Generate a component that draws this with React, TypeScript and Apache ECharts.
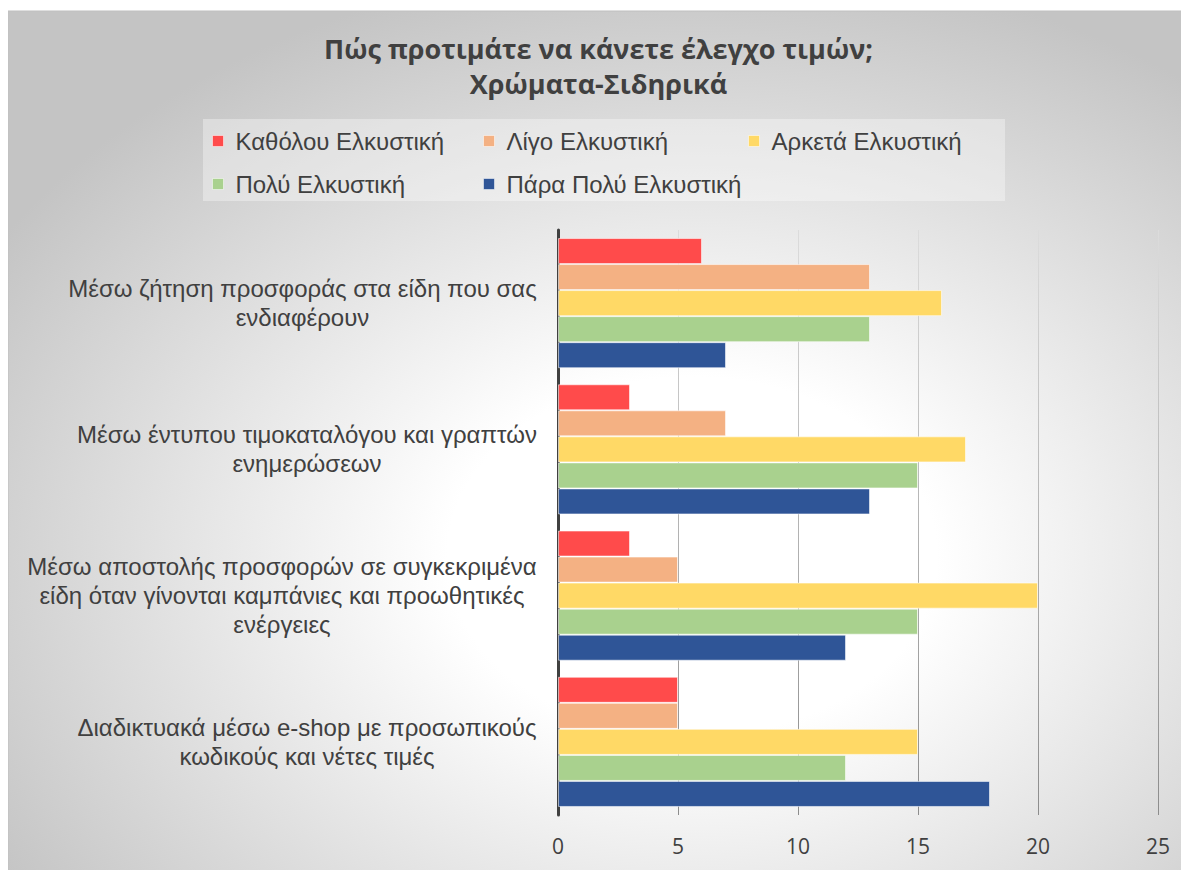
import React, { useEffect, useRef } from "react";
import * as echarts from "echarts";

const TITLE = "Πώς προτιμάτε να κάνετε έλεγχο τιμών;\nΧρώματα-Σιδηρικά";
const CATEGORIES = [
  "Μέσω ζήτηση προσφοράς στα είδη που σας\nενδιαφέρουν",
  "Μέσω έντυπου τιμοκαταλόγου και γραπτών\nενημερώσεων",
  "Μέσω αποστολής προσφορών σε συγκεκριμένα\nείδη όταν γίνονται καμπάνιες και προωθητικές\nενέργειες",
  "Διαδικτυακά μέσω e-shop με προσωπικούς\nκωδικούς και νέτες τιμές",
];
const SERIES_NAMES = [
  "Καθόλου Ελκυστική",
  "Λίγο Ελκυστική",
  "Αρκετά Ελκυστική",
  "Πολύ Ελκυστική",
  "Πάρα Πολύ Ελκυστική",
];
const KATHOLOU = [6, 3, 3, 5];
const LIGO = [13, 7, 5, 5];
const ARKETA = [16, 17, 20, 15];
const POLY = [13, 15, 15, 12];
const PARA_POLY = [7, 13, 12, 18];
const X_TICKS = [0, 5, 10, 15, 20, 25];

const COLORS = ["#FF4B4B", "#F4B183", "#FFD966", "#A9D18E", "#2F5597"];
const FONT = "'Liberation Sans', Arial, sans-serif";
const FONT2 = "'Open Sans', 'Liberation Sans', sans-serif";
const TEXT = "#404040";

export default function App() {
  const ref = useRef<HTMLDivElement>(null);
  useEffect(() => {
    if (!ref.current) return;
    const chart = echarts.init(ref.current, undefined, { renderer: "svg" });
    const values = [KATHOLOU, LIGO, ARKETA, POLY, PARA_POLY];

    const ctx = document.createElement("canvas").getContext("2d")!;
    ctx.font = `24px 'Liberation Sans', Arial, sans-serif`;
    const rich: any = {};
    CATEGORIES.forEach((c, i) => {
      const w = Math.max(...c.split("\n").map((l) => ctx.measureText(l).width));
      rich["c" + i] = {
        width: Math.ceil(w) + 2,
        align: "center",
        fontSize: 24,
        lineHeight: 29,
        color: TEXT,
        fontFamily: FONT,
      };
    });

    const legendPos = [
      [204, 121],
      [475, 121],
      [740, 121],
      [204, 164],
      [475, 164],
    ];

    chart.setOption({
      animation: false,
      textStyle: { fontFamily: FONT },
      title: {
        text: TITLE,
        left: "center",
        top: 18,
        textStyle: {
          fontSize: 27,
          fontWeight: "bold",
          color: TEXT,
          lineHeight: 35,
          fontFamily: FONT2,
        },
      },
      graphic: [
        {
          type: "rect",
          z: -100,
          silent: true,
          shape: { x: 0, y: 3, width: 1200, height: 880 },
          style: {
            fill: new echarts.graphic.RadialGradient(0.57, 0.62, 0.68, [
              { offset: 0, color: "#ffffff" },
              { offset: 0.3, color: "#ffffff" },
              { offset: 1, color: "#c4c4c4" },
            ]),
            stroke: "#bfbfbf",
            lineWidth: 1,
          },
        },
        {
          type: "rect",
          z: -99,
          silent: true,
          shape: { x: 195, y: 111, width: 802, height: 82 },
          style: { fill: "rgba(255,255,255,0.35)" },
        },
      ],
      legend: SERIES_NAMES.map((n, i) => ({
        data: [n],
        left: legendPos[i][0],
        top: legendPos[i][1],
        padding: 0,
        icon: "rect",
        itemWidth: 11,
        itemHeight: 11,
        selectedMode: false,
        itemStyle: { borderColor: "rgba(255,255,255,0.5)", borderWidth: 1 },
        textStyle: {
          fontSize: 24,
          lineHeight: 24,
          color: TEXT,
          fontFamily: FONT,
          padding: [0, 0, 0, 7],
        },
      })),
      grid: { left: 550, top: 222, width: 600, height: 585, containLabel: false },
      xAxis: {
        type: "value",
        min: 0,
        max: 25,
        interval: 5,
        axisLine: { show: false },
        axisTick: { show: false },
        axisLabel: {
          fontSize: 21,
          color: TEXT,
          margin: 20,
          fontFamily: FONT2,
          formatter: (v: number) => (X_TICKS.includes(v) ? String(v) : ""),
        },
        splitLine: {
          lineStyle: {
            width: 1,
            color: new echarts.graphic.LinearGradient(
              0,
              222,
              0,
              807,
              [
                { offset: 0, color: "#dcdcdc" },
                { offset: 1, color: "#8c8c8c" },
              ],
              true
            ),
          },
        },
      },
      yAxis: {
        type: "category",
        inverse: true,
        data: CATEGORIES,
        axisLine: { show: true, lineStyle: { color: "#404040", width: 3 } },
        axisTick: { show: false },
        axisLabel: {
          margin: 20,
          align: "right",
          formatter: (v: string) => {
            const i = CATEGORIES.indexOf(v);
            return v
              .split("\n")
              .map((l) => `{c${i}|${l}}`)
              .join("\n");
          },
          rich,
        },
      },
      series: SERIES_NAMES.map((n, i) => ({
        name: n,
        type: "bar",
        data: values[i],
        barGap: "0%",
        barCategoryGap: "11%",
        itemStyle: {
          color: COLORS[i],
          borderColor: "rgba(255,255,255,0.55)",
          borderWidth: 1,
        },
      })),
    });
    return () => chart.dispose();
  }, []);
  return <div ref={ref} style={{ width: 1181, height: 862 }} />;
}
